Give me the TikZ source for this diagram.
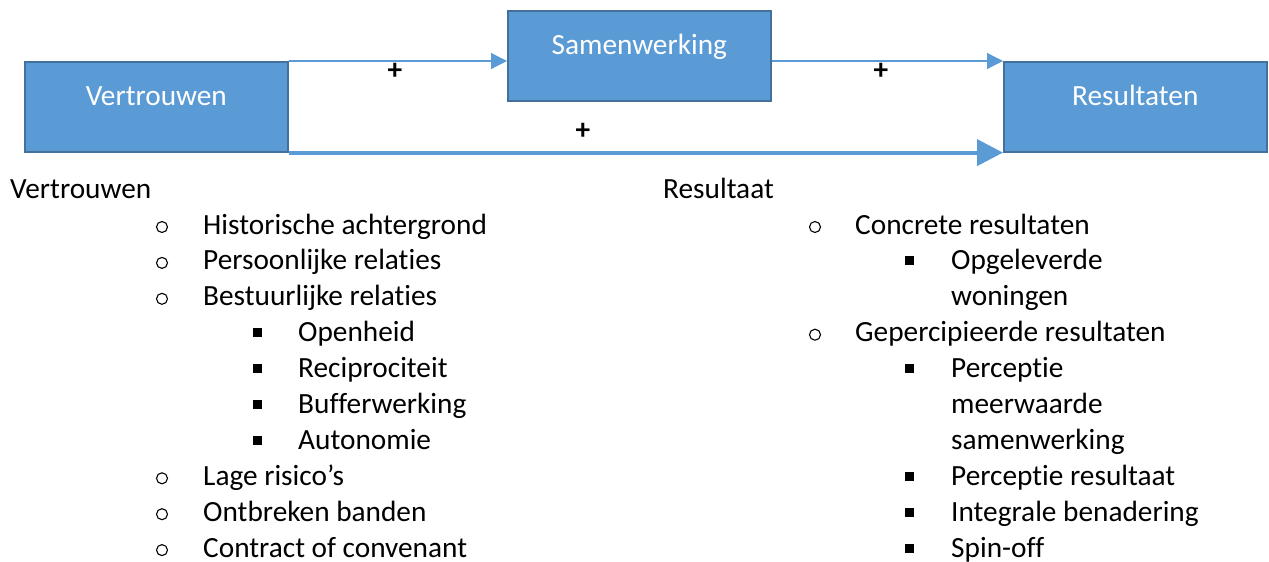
\documentclass[tikz,border=0pt]{standalone}
\usepackage{fontspec}
\setmainfont{Carlito}[Ligatures={NoCommon,NoContextual}]
\newcommand{\nlg}{\kern0pt\relax}
\usetikzlibrary{arrows.meta}
\definecolor{boxfill}{HTML}{5B9BD5}
\definecolor{boxline}{HTML}{41719C}
\begin{document}
\begin{tikzpicture}[x=1pt,y=-1pt,
  bigfont/.style={font=\fontsize{29.3}{36}\selectfont},
  block/.style={bigfont, draw=boxline, line width=1.6pt, fill=boxfill, text=white,
    minimum width=263pt, inner sep=0pt, text height=44pt, text depth=46pt, anchor=north west},
  thinarrow/.style={draw=boxfill, line width=1.2pt, -{Triangle[length=16pt,width=16pt]}},
  thickarrow/.style={draw=boxfill, line width=4pt, -{Triangle[length=26pt,width=26pt]}},
  plus/.style={font=\fontsize{29.3}{36}\selectfont\bfseries, inner sep=0pt},
  txt/.style={bigfont, anchor=base west, inner sep=0pt},
  circbullet/.style={draw, circle, line width=1.1pt, minimum size=11pt, inner sep=0pt},
  sqbullet/.style={fill, rectangle, minimum size=9pt, inner sep=0pt},
]
\useasboundingbox (0,0) rectangle (1269,562);

% boxes
\node[block] (vert) at (24,61) {Vertrouwen};
\node[block] (sam) at (507,10) {Samenwerking};
\node[block] (res) at (1003,61) {Resultaten};

% connectors
\draw[thinarrow] (vert.north east) -- (vert.north east -| sam.west);
\draw[thinarrow] (sam.east |- res.north west) -- (res.north west);
\draw[thickarrow] (vert.south east) -- (res.south west);

% plus labels
\node[plus] (p1) at (395,71) {+};
\node[plus] (p2) at (881,71) {+};
\node[plus] (p3) at (583,131) {+};

% left list
\node[txt] (hv) at (10,198) {Vertrouwen};
\node[circbullet] (lb0) at (162,227) {};
\node[txt] (l0) at (203,234) {Historische achtergrond};
\node[circbullet] (lb1) at (162,262.9) {};
\node[txt] (l1) at (203,269.9) {Persoonlijke relat\nlg ies};
\node[circbullet] (lb2) at (162,298.8) {};
\node[txt] (l2) at (203,305.8) {Bestuurlijke relat\nlg ies};
\node[sqbullet] (lb3) at (257,332.7) {};
\node[txt] (l3) at (298,341.7) {Openheid};
\node[sqbullet] (lb4) at (257,368.6) {};
\node[txt] (l4) at (298,377.6) {Reciprociteit};
\node[sqbullet] (lb5) at (257,404.5) {};
\node[txt] (l5) at (298,413.5) {Buf\nlg ferwerking};
\node[sqbullet] (lb6) at (257,440.4) {};
\node[txt] (l6) at (298,449.4) {Autonomie};
\node[circbullet] (lb7) at (162,478.3) {};
\node[txt] (l7) at (203,485.3) {Lage risico’s};
\node[circbullet] (lb8) at (162,514.2) {};
\node[txt] (l8) at (203,521.2) {Ontbreken banden};
\node[circbullet] (lb9) at (162,550.1) {};
\node[txt] (l9) at (203,557.1) {Contract of convenant};

% right list
\node[txt] (hr) at (663,198) {Resultaat};
\node[circbullet] (rb0) at (815,227) {};
\node[txt] (r0) at (855,234) {Concrete resultaten};
\node[sqbullet] (rb1) at (909,260.9) {};
\node[txt] (r1) at (951,269.9) {Opgeleverde};
\node[txt] (r2) at (951,305.8) {woningen};
\node[circbullet] (rb3) at (815,334.7) {};
\node[txt] (r3) at (855,341.7) {Gepercipieerde resultaten};
\node[sqbullet] (rb4) at (909,368.6) {};
\node[txt] (r4) at (951,377.6) {Percept\nlg ie};
\node[txt] (r5) at (951,413.5) {meerwaarde};
\node[txt] (r6) at (951,449.4) {samenwerking};
\node[sqbullet] (rb7) at (909,476.3) {};
\node[txt] (r7) at (951,485.3) {Percept\nlg ie resultaat};
\node[sqbullet] (rb8) at (909,512.2) {};
\node[txt] (r8) at (951,521.2) {Integrale benadering};
\node[sqbullet] (rb9) at (909,548.1) {};
\node[txt] (r9) at (951,557.1) {Spin-of\nlg f};
\end{tikzpicture}
\end{document}
